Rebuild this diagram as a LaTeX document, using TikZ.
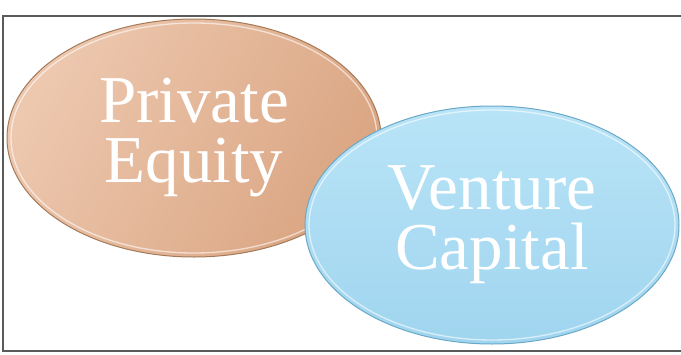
\documentclass[tikz,border=0pt]{standalone}
\usepackage{fontspec}
\setmainfont{Liberation Serif}
\usetikzlibrary{shapes.geometric}

\definecolor{tanlight}{HTML}{EDC8AF}
\definecolor{tandark}{HTML}{DAA582}
\definecolor{tanrim}{HTML}{A47B5A}
\definecolor{skylight}{HTML}{B9E4F7}
\definecolor{skydark}{HTML}{A0D5EF}
\definecolor{skyrim}{HTML}{6CA8C6}
\definecolor{framegray}{HTML}{5A5A5A}

\def\rx{187pt}
\def\ry{119pt}
\tikzstyle{bubble}=[ellipse, minimum width=374pt, minimum height=238pt, inner sep=0pt,
  text=white, align=center, font=\fontsize{67}{60}\selectfont, line width=1pt]
\tikzstyle{tanbubble}=[bubble, draw=tanrim, left color=tanlight, right color=tandark, shading angle=60]
\tikzstyle{skybubble}=[bubble, draw=skyrim, top color=skylight, bottom color=skydark]
\tikzstyle{gloss}=[draw=white, line width=1.3pt, opacity=0.6]
\tikzstyle{frame}=[draw=framegray, line width=1.2pt]

\begin{document}
\begin{tikzpicture}[x=1pt, y=-1pt]
  \useasboundingbox (0,0) rectangle (681,354);
  % frame runs off the right side
  \path[frame] (692,16) -| (3,351) -- (692,351);

  % the two ovals, blue one sits over the tan one
  \node[tanbubble] (pe) at (194,138) {Private\\Equity};
  \path[gloss] (pe.center) ellipse ({\rx-4pt} and {\ry-4pt});

  \node[skybubble] (vc) at (492,225) {Venture\\Capital};
  \path[gloss] (vc.center) ellipse ({\rx-4pt} and {\ry-4pt});
\end{tikzpicture}
\end{document}
